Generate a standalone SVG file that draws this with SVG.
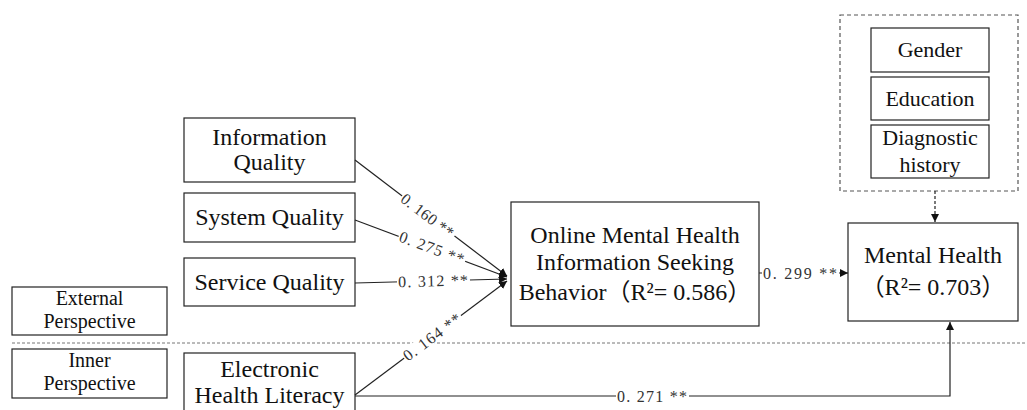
<svg xmlns="http://www.w3.org/2000/svg" width="1027" height="410" viewBox="0 0 1027 410">
<defs>
<marker id="ah" markerUnits="userSpaceOnUse" markerWidth="9" markerHeight="8" refX="8" refY="4" orient="auto">
<path d="M0,0 L8,4 L0,8 Z" fill="#111"/>
</marker>
<style>
.box{fill:#fff;stroke:#222;stroke-width:1.2}
.t{font-family:"Liberation Serif","Noto Sans CJK SC",serif;font-size:24px;fill:#111;text-anchor:middle}
.s{font-size:22px}
.p{font-size:20px}
.ln{fill:none;stroke:#222;stroke-width:1.2}
.lb{font-family:"Liberation Serif",serif;font-size:16px;fill:#333}
.bg{fill:#fff}
.sep{stroke:#777;stroke-width:1;stroke-dasharray:3,2}
</style>
</defs>
<rect width="1027" height="410" fill="#fff"/>

<line class="sep" x1="12" y1="343" x2="1027" y2="343"/>

<g id="external">
<rect class="box" x="12" y="287" width="155" height="48"/>
<text class="t p" x="89.5" y="305">External</text>
<text class="t p" x="89.5" y="328">Perspective</text>
</g>
<g id="inner">
<rect class="box" x="12" y="349" width="155" height="49"/>
<text class="t p" x="89.5" y="367">Inner</text>
<text class="t p" x="89.5" y="390">Perspective</text>
</g>

<g id="info-quality">
<rect class="box" x="184" y="118" width="171" height="64"/>
<text class="t" x="269.5" y="145">Information</text>
<text class="t" x="269.5" y="170">Quality</text>
</g>
<g id="system-quality">
<rect class="box" x="184" y="193" width="171" height="49"/>
<text class="t" x="269.5" y="225">System Quality</text>
</g>
<g id="service-quality">
<rect class="box" x="184" y="258" width="171" height="48"/>
<text class="t" x="269.5" y="290">Service Quality</text>
</g>
<g id="ehl">
<rect class="box" x="184" y="353" width="171" height="60"/>
<text class="t" x="269.5" y="377">Electronic</text>
<text class="t" x="269.5" y="403">Health Literacy</text>
</g>

<g id="omhisb">
<rect class="box" x="511" y="202" width="248" height="124"/>
<text class="t" x="635" y="243">Online Mental Health</text>
<text class="t" x="635" y="270">Information Seeking</text>
<text class="t" x="635" y="300">Behavior（R²= 0.586）</text>
</g>

<g id="mental-health">
<rect class="box" x="848" y="223" width="170" height="98"/>
<text class="t" x="933" y="263">Mental Health</text>
<text class="t" x="933" y="295">（R²= 0.703）</text>
</g>

<g id="controls">
<rect x="840" y="15" width="178" height="176" fill="none" stroke="#555" stroke-width="1.2" stroke-dasharray="4,3"/>
<g id="gender">
<rect class="box" x="871" y="28" width="118" height="44"/>
<text class="t s" x="930" y="57">Gender</text>
</g>
<g id="education">
<rect class="box" x="871" y="77" width="118" height="43"/>
<text class="t s" x="930" y="106">Education</text>
</g>
<g id="diagnostic">
<rect class="box" x="871" y="125" width="118" height="53"/>
<text class="t s" x="930" y="145">Diagnostic</text>
<text class="t s" x="930" y="172">history</text>
</g>
</g>

<g id="connectors">
<line class="ln" x1="355" y1="160" x2="507" y2="276" marker-end="url(#ah)"/>
<line class="ln" x1="355" y1="220" x2="507" y2="277" marker-end="url(#ah)"/>
<line class="ln" x1="355" y1="283" x2="507" y2="279" marker-end="url(#ah)"/>
<line class="ln" x1="355" y1="395" x2="507" y2="281" marker-end="url(#ah)"/>
<line class="ln" x1="759" y1="273" x2="848" y2="273" marker-end="url(#ah)"/>
<path class="ln" d="M355,396 H950 V322" marker-end="url(#ah)"/>
<line x1="935" y1="191" x2="935" y2="222" stroke="#222" stroke-width="1.2" stroke-dasharray="3,2" marker-end="url(#ah)"/>

<g transform="translate(402,196) rotate(37.35)">
<rect class="bg" x="0" y="-7" width="66" height="14"/>
<text class="lb" x="1" y="5.5" textLength="62" lengthAdjust="spacing">0. 160 **</text>
</g>
<g transform="translate(399,235.5) rotate(20.55)">
<rect class="bg" x="0" y="-7" width="71" height="14"/>
<text class="lb" x="1" y="5.5" textLength="68" lengthAdjust="spacing">0. 275 **</text>
</g>
<g transform="translate(397,281.9) rotate(-1.5)">
<rect class="bg" x="0" y="-7" width="73" height="14"/>
<text class="lb" x="1" y="5.5" textLength="70" lengthAdjust="spacing">0. 312 **</text>
</g>
<g transform="translate(404,358) rotate(-36.87)">
<rect class="bg" x="0" y="-7" width="71" height="14"/>
<text class="lb" x="1" y="5.5" textLength="68" lengthAdjust="spacing">0. 164 **</text>
</g>
<rect class="bg" x="762" y="266" width="77" height="14"/>
<text class="lb" x="763" y="278.5" textLength="74" lengthAdjust="spacing">0. 299 **</text>
<rect class="bg" x="616" y="389" width="73" height="14"/>
<text class="lb" x="617" y="401.5" textLength="70" lengthAdjust="spacing">0. 271 **</text>
</g>
</svg>
